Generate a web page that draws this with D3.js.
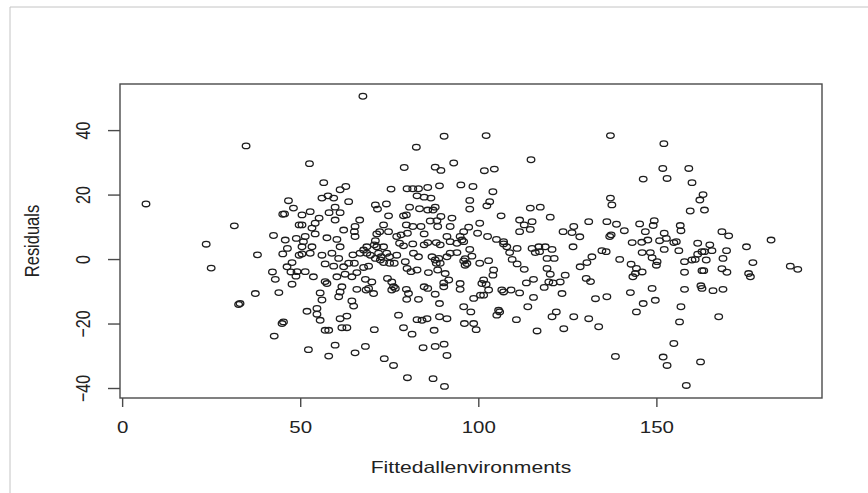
<!DOCTYPE html>
<html>
<head>
<meta charset="utf-8">
<script src="https://cdn.jsdelivr.net/npm/d3@7"></script>
<style>
  html, body { margin: 0; padding: 0; background: #fff; }
  svg { display: block; }
  text { font-family: "Liberation Sans", Arial, sans-serif; fill: #222; }
</style>
</head>
<body>
<div id="chart"></div>
<script>
// ---- Data ----
const xTickValues = [0, 50, 100, 150];
const yTickValues = [-40, -20, 0, 20, 40];
const xLabel = "Fittedallenvironments";
const yLabel = "Residuals";

const fitted = [
  6.7,34.8,31.5,23.6,25.0,38.0,37.4,32.7,33.1,42.5,42.2,43.0,44.0,42.7,44.9,45.3,45.1,45.6,46.7,48.1,45.8,45.1,46.4,48.9,46.3,47.7,47.4,48.8,47.7,49.7,49.7,49.1,
  52.6,56.6,61.2,62.8,50.5,52.8,56.1,57.8,59.4,59.8,58.1,61.2,63.6,55.3,54.2,50.5,53.3,59.8,62.2,51.4,54.2,57.5,60.3,50.9,50.5,53.3,50.5,52.8,56.1,58.9,61.2,60.8,57.0,59.4,62.2,63.6,51.4,53.7,57.0,57.5,60.3,62.6,61.7,61.2,60.8,55.6,56.1,54.7,51.9,54.7,55.6,61.2,63.1,57.0,58.0,61.7,63.1,52.3,59.8,58.0,
  67.6,90.4,82.6,93.1,79.2,87.9,89.5,75.5,80.0,81.6,83.2,85.8,89.1,82.8,84.8,86.7,71.1,71.7,74.2,80.7,83.5,85.8,87.3,87.9,92.6,74.8,79.0,79.8,66.7,65.4,65.2,65.4,73.4,79.8,81.6,83.9,86.5,88.4,89.5,88.6,71.5,72.3,74.8,77.1,78.3,80.1,84.8,92.1,91.2,71.1,70.8,71.5,68.7,67.8,66.8,73.4,77.9,79.0,81.6,84.8,85.8,88.2,89.3,92.1,68.7,69.7,72.0,72.7,74.3,75.1,77.1,79.5,81.8,83.2,87.0,87.9,88.9,88.2,89.3,91.2,92.1,64.8,65.2,67.8,69.2,71.1,72.5,73.4,75.1,76.4,80.0,81.1,82.8,86.0,88.6,90.7,91.7,90.3,65.9,64.5,68.3,70.1,74.5,75.7,65.9,68.5,69.2,70.6,75.7,76.7,76.2,79.8,80.4,84.8,85.8,87.9,90.3,64.5,65.0,83.2,79.9,89.1,77.6,82.8,84.2,85.6,89.1,91.2,70.8,79.0,81.4,87.6,68.3,65.4,84.5,87.9,90.4,91.2,73.6,76.2,80.1,87.3,90.5,
  102.2,114.8,101.7,104.5,95.1,98.5,104.1,97.6,97.6,103.2,102.4,106.4,114.6,117.4,120.2,111.6,112.9,115.1,111.6,114.6,123.8,100.4,97.3,95.9,94.9,99.8,102.6,105.1,107.1,107.1,108.0,108.8,110.9,95.9,95.4,94.0,97.6,94.0,96.3,95.9,96.8,98.2,96.3,100.4,102.9,109.5,110.9,112.9,115.1,117.0,118.8,120.7,116.0,117.2,119.3,121.3,119.3,120.2,121.0,119.8,123.0,124.4,118.5,123.5,104.3,104.1,101.5,101.0,102.2,102.9,101.5,100.6,98.7,94.9,94.9,106.6,107.1,109.2,111.6,113.5,115.5,115.5,113.9,105.7,105.2,106.0,110.7,95.9,97.9,96.1,98.7,99.4,116.5,120.7,121.9,124.0,
  137.1,152.1,151.8,159.1,153.0,146.3,160.0,163.1,162.2,159.5,163.5,137.1,137.5,131.0,136.1,138.8,141.0,137.3,136.9,145.3,146.9,149.1,149.4,143.2,145.9,147.6,150.9,152.2,152.8,154.9,155.6,156.7,156.9,168.4,170.3,182.2,175.3,161.6,165.0,165.6,163.5,169.7,168.7,156.3,152.2,146.0,148.3,148.8,150.2,150.0,139.7,134.7,135.9,131.9,130.5,128.6,126.6,126.3,126.8,128.5,142.9,144.4,143.4,146.0,144.1,157.9,160.0,160.9,161.6,162.8,164.0,163.3,162.8,157.9,168.4,169.8,175.9,176.4,177.1,187.6,189.7,130.3,131.5,162.5,162.8,165.9,168.7,148.8,157.9,142.7,132.9,136.1,146.3,144.4,149.7,126.8,131.0,133.8,156.9,156.5,167.5,154.9,138.5,151.9,153.0,162.4,158.4
];

const residuals = [
  17.1,35.1,10.3,4.6,-2.8,1.3,-10.7,-14.1,-13.8,7.3,-4.0,-6.3,-10.4,-23.9,-20.0,-19.5,13.9,14.0,18.1,15.8,5.9,1.6,3.3,6.4,-2.4,-1.1,-4.0,-5.3,-7.8,10.6,1.2,-3.9,
  29.6,23.7,21.5,22.5,13.7,14.7,18.9,19.6,18.9,16.1,14.4,14.4,17.8,12.7,11.1,10.6,9.6,12.1,9.0,7.0,7.8,6.6,6.1,5.4,3.8,3.8,1.6,1.8,1.2,1.8,3.8,0.2,-1.5,-2.2,-2.4,-1.3,-3.9,-5.5,-7.0,-7.6,-5.5,-4.7,-8.6,-10.2,-11.7,-10.5,-12.7,-15.3,-16.2,-17.1,-19.0,-18.5,-17.7,-22.1,-22.1,-21.3,-21.3,-28.1,-26.7,-30.1,
  50.5,38.1,34.7,29.8,28.4,28.5,27.5,21.7,21.8,21.8,21.8,22.2,22.7,19.6,19.2,18.9,16.8,15.5,17.1,16.1,15.6,15.2,15.2,16.1,12.7,13.4,13.4,13.7,12.1,10.1,8.5,7.0,10.6,10.6,10.1,10.1,11.8,11.9,13.2,10.1,7.8,8.5,8.5,7.0,7.5,8.0,7.8,10.1,7.0,5.7,4.4,3.8,3.8,2.8,1.8,3.8,4.9,4.1,4.7,4.4,5.1,5.1,4.4,5.4,1.8,1.2,1.8,0.7,1.8,0.7,1.2,-0.8,1.8,0.7,0.7,-0.3,0.2,-1.3,-1.3,0.7,1.8,1.3,-1.3,-2.6,-2.2,0.2,-0.3,-1.1,-1.3,-1.3,-2.9,-3.9,-3.4,-4.2,-3.4,-4.5,-6.5,-7.4,-4.2,-5.5,-6.3,-7.1,-6.0,-7.1,-9.4,-9.6,-9.1,-10.7,-9.6,-9.1,-8.6,-9.4,-10.7,-8.6,-9.1,-10.9,-8.6,-13.0,-14.6,-12.5,-12.5,-13.8,-17.4,-18.8,-19.0,-18.5,-17.9,-18.5,-21.9,-21.3,-23.3,-22.1,-27.1,-29.1,-27.5,-27.1,-26.4,-29.9,-30.9,-33.0,-36.8,-37.1,-39.5,
  38.3,30.8,27.4,27.9,23.0,22.5,20.9,18.2,15.5,17.8,16.5,13.4,15.8,16.1,13.0,12.1,10.6,11.6,8.5,9.2,8.5,11.1,9.9,8.5,7.0,8.0,7.0,6.1,5.4,4.7,3.8,2.0,3.3,5.4,5.9,4.9,3.0,2.0,0.1,-0.6,-1.4,0.9,-1.9,-1.3,-0.5,-0.1,-1.5,-3.2,3.3,3.8,3.8,3.0,2.0,2.3,0.2,0.2,-2.9,-4.7,-7.4,-7.1,-7.1,-5.0,-8.8,-10.7,-3.4,-5.0,-6.5,-7.6,-7.9,-9.6,-11.2,-11.2,-12.2,-7.6,-9.4,-9.6,-10.2,-9.6,-10.5,-7.4,-6.3,-11.9,-14.8,-15.9,-17.4,-16.4,-18.8,-14.8,-16.4,-20.0,-20.0,-21.9,-22.3,-17.9,-16.4,-21.6,
  38.3,35.8,28.1,28.1,25.0,24.8,23.7,20.0,18.3,14.9,15.2,18.9,16.8,11.6,11.6,10.8,8.8,7.5,7.0,10.9,8.5,10.4,11.9,5.1,5.2,5.9,5.7,8.0,6.4,5.1,5.4,10.4,8.8,8.5,7.2,5.9,3.8,4.9,4.4,2.6,2.3,2.6,0.2,2.6,3.0,2.0,2.0,0.4,-0.8,-1.9,-0.1,2.6,2.3,0.7,-1.1,-2.4,3.8,8.2,10.1,6.9,-1.6,-2.9,-5.5,-4.0,-4.5,-0.8,-0.3,-0.1,1.5,2.3,-0.3,-3.6,-3.6,-4.1,-3.0,-4.1,-4.5,-5.5,-1.1,-2.2,-3.2,-6.0,-7.0,-8.3,-9.1,-9.8,-9.4,-9.1,-9.4,-10.4,-12.3,-11.7,-13.8,-16.4,-12.8,-17.9,-18.5,-21.0,-14.8,-19.5,-17.9,-26.2,-30.2,-30.4,-33.0,-31.9,-39.2
];

// ---- Layout ----
const W = 868, H = 493;
const plot = { left: 120, right: 822, top: 84, bottom: 398 };
const SX = 1.28; // horizontal stretch of the reference rendering

const svg = d3.select("#chart").append("svg")
  .attr("width", W).attr("height", H);

svg.append("rect").attr("width", W).attr("height", H).attr("fill", "#fff");

// outer light frame (top and left)
svg.append("line").attr("x1", 10).attr("y1", 7).attr("x2", W).attr("y2", 7)
  .attr("stroke", "#c4c4c4").attr("stroke-width", 1);
svg.append("line").attr("x1", 10).attr("y1", 7).attr("x2", 10).attr("y2", H)
  .attr("stroke", "#c4c4c4").attr("stroke-width", 1);

const x = d3.scaleLinear().domain([-0.6, 196.5]).range([plot.left, plot.right]);
const y = d3.scaleLinear().domain([-43.1, 54.3]).range([plot.bottom, plot.top]);

// points
const pts = d3.range(Math.min(fitted.length, residuals.length)).map(i => ({ f: fitted[i], r: residuals[i] }));
svg.append("g").selectAll("ellipse").data(pts).join("ellipse")
  .attr("cx", d => x(d.f))
  .attr("cy", d => y(d.r))
  .attr("rx", 3.8).attr("ry", 2.8)
  .attr("fill", "none")
  .attr("stroke", "#1e1e1e")
  .attr("stroke-width", 1.3);

// box
svg.append("rect")
  .attr("x", plot.left).attr("y", plot.top)
  .attr("width", plot.right - plot.left).attr("height", plot.bottom - plot.top)
  .attr("fill", "none").attr("stroke", "#4a4a4a").attr("stroke-width", 1.4);

// x axis
const gx = svg.append("g").attr("transform", `translate(0,${plot.bottom})`)
  .call(d3.axisBottom(x).tickValues(xTickValues).tickSize(9).tickFormat(d3.format("d")));
gx.select(".domain").remove();
gx.selectAll(".tick line").attr("stroke", "#4a4a4a").attr("stroke-width", 1.4);
gx.selectAll(".tick text")
  .attr("y", 0).attr("dy", "0.36em")
  .attr("transform", `translate(0,29) scale(${SX},1)`)
  .style("font-size", "16px")
  .attr("fill", "#222");

// y axis
const gy = svg.append("g").attr("transform", `translate(${plot.left},0)`)
  .call(d3.axisLeft(y).tickValues(yTickValues).tickSize(12).tickFormat(d3.format("d")));
gy.select(".domain").remove();
gy.selectAll(".tick line").attr("stroke", "#4a4a4a").attr("stroke-width", 1.4);
gy.selectAll(".tick text")
  .attr("x", 0).attr("y", 0).attr("dy", "0.36em")
  .attr("text-anchor", "middle")
  .attr("transform", `translate(-37,0) scale(${SX},1) rotate(-90)`)
  .style("font-size", "16px")
  .attr("fill", "#222");

// axis titles
svg.append("text")
  .attr("text-anchor", "middle").attr("dy", "0.36em")
  .attr("transform", `translate(${(plot.left + plot.right) / 2},467) scale(${SX},1)`)
  .style("font-size", "16.5px")
  .text(xLabel);

svg.append("text")
  .attr("text-anchor", "middle").attr("dy", "0.36em")
  .attr("transform", `translate(31,${(plot.top + plot.bottom) / 2}) scale(${SX},1) rotate(-90)`)
  .style("font-size", "16.5px")
  .text(yLabel);
</script>
</body>
</html>
